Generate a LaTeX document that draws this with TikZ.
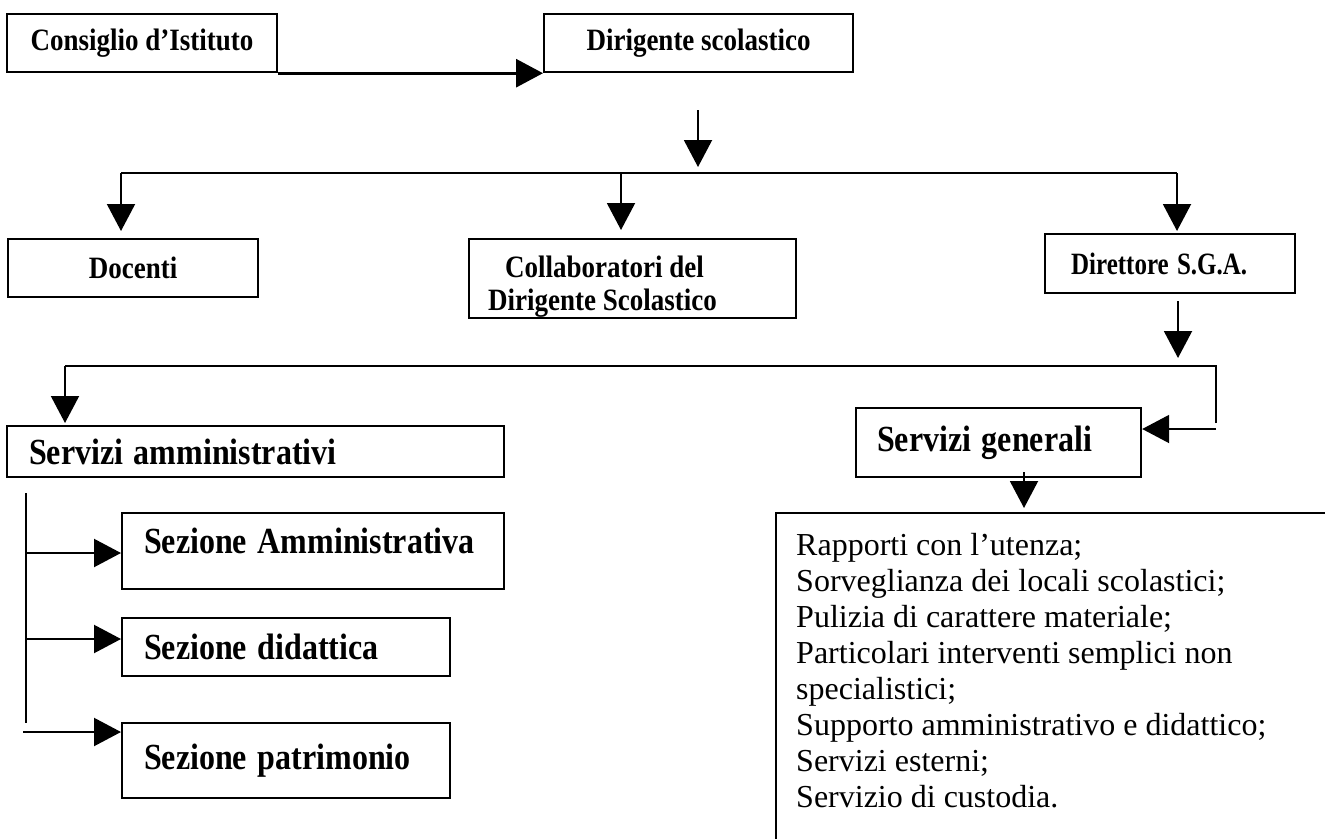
\documentclass[tikz,border=0pt]{standalone}
\usepackage{graphicx}
\usepackage{fontspec}
\setmainfont{Liberation Serif}
\usetikzlibrary{arrows.meta}
\newcommand{\tallbf}[2][1.15]{\scalebox{1}[#1]{#2}}

\begin{document}
\begin{tikzpicture}[x=1pt,y=-1pt,
    box/.style={draw,line width=2.2pt,rectangle,anchor=north west,inner sep=0pt},
    topfont/.style={font=\fontsize{27}{33}\selectfont\bfseries},
    bigfont/.style={font=\fontsize{32}{36}\selectfont\bfseries},
    leftbox/.style={box,bigfont,inner xsep=22pt,inner ysep=0pt,align=left},
    link/.style={line width=2pt,-{Triangle[length=27pt,width=28pt]}},
    thinline/.style={line width=1.5pt}]
    \useasboundingbox (0,0) rectangle (1325,838);
    % upper level
    \node[box,topfont,minimum width=270pt,minimum height=58pt] (consiglio) at (6,13) {\tallbf{Consiglio d’Istituto}};
    \node[box,topfont,minimum width=309pt,minimum height=58pt] (dirigente) at (543,13) {\tallbf{Dirigente scolastico}};
    \node[box,topfont,minimum width=250pt,minimum height=58pt] (docenti) at (7,238) {\tallbf{Docenti}};
    \node[box,minimum width=327pt,minimum height=79pt] (collab) at (468,238) {};
    \node[topfont,anchor=north west,align=left,inner sep=0pt] (collabtxt) at (488,256) {\hspace*{17pt}\tallbf{Collaboratori del}\\\tallbf{Dirigente Scolastico}};
    \node[box,font=\fontsize{25}{30}\selectfont\bfseries,inner xsep=26pt,inner ysep=0pt,text width=198pt,align=left,minimum height=59pt] (direttore) at (1044,233) {\tallbf[1.24]{Direttore S.G.A.}};
    % lower level
    \node[leftbox,text width=453pt,minimum height=51pt] (ammin) at (6,425) {\tallbf{Servizi amministrativi}};
    \node[leftbox,text width=338pt,minimum height=76pt,text depth=20pt] (sezamm) at (121,512) {\tallbf{Sezione Amministrativa}};
    \node[leftbox,text width=284pt,minimum height=58pt] (sezdid) at (121,617) {\tallbf{Sezione didattica}};
    \node[leftbox,text width=284pt,minimum height=75pt] (sezpat) at (121,722) {\tallbf{Sezione patrimonio}};
    \node[leftbox,inner xsep=21pt,text width=243pt,minimum height=69pt] (generali) at (855,407) {\tallbf{Servizi generali}};
    \node[box,minimum width=600pt,minimum height=360pt] (compiti) at (775,512) {};
    \node[anchor=north west,align=left,inner sep=0pt,font=\fontsize{32}{36}\selectfont] (compititxt) at (796,533) {Rapporti con l’utenza;\\
        Sorveglianza dei locali scolastici;\\
        Pulizia di carattere materiale;\\
        Particolari interventi semplici non\\
        specialistici;\\
        Supporto amministrativo e didattico;\\
        Servizi esterni;\\
        Servizio di custodia.};
    % connectors
    \coordinate (dirout) at (698,110);
    \coordinate (dirin) at (698,167);
    \coordinate (busl) at (121,173);
    \coordinate (busm) at (621,173);
    \coordinate (busr) at (1177,173);
    \coordinate (sgaout) at (1178,301);
    \coordinate (sgain) at (1178,358);
    \coordinate (bus2l) at (65,366);
    \coordinate (bus2r) at (1216,366);
    \coordinate (bus2d) at (1216,423);
    \coordinate (genin) at (1216,429);
    \coordinate (genout) at (1024,472);
    \coordinate (trunktop) at (26,493);
    \coordinate (trunkbot) at (26,723);
    \draw[link,line width=3pt] (consiglio.south east) -- (dirigente.south west);
    \draw[link] (dirout) -- (dirin);
    \draw[line width=2pt] (busl) -- (busr);
    \draw[link] (busl) -- ([yshift=7pt]busl |- docenti.north);
    \draw[link] (busm) -- ([yshift=8pt]busm |- collab.north);
    \draw[link] (busr) -- ([yshift=2pt]busr |- direttore.north);
    \draw[link] (sgaout) -- (sgain);
    \draw[thinline] (bus2d) -- (bus2r) -- (bus2l);
    \draw[link] (bus2l) -- ([yshift=2pt]bus2l |- ammin.north);
    \draw[link] (genin) -- (genin -| generali.east);
    \draw[link] (genout) -- ([yshift=4pt]genout |- compiti.north);
    \draw[thinline] (trunktop) -- (trunkbot);
    \foreach \y/\sez in {553/sezamm,639/sezdid}
        \draw[link,line width=2.2pt] (26,\y) -- (\sez.west |- 26,\y);
    \draw[link,line width=2.2pt] (23,732) -- (sezpat.west |- 23,732);
\end{tikzpicture}
\end{document}
